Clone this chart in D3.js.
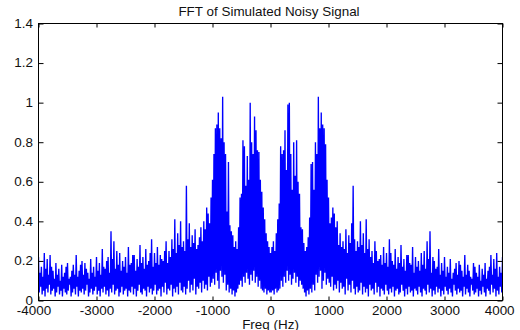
<!DOCTYPE html>
<html>
<head>
<meta charset="utf-8">
<script src="https://cdn.jsdelivr.net/npm/d3@7"></script>
<style>
  html, body { margin: 0; padding: 0; background: #fff; }
  svg { display: block; font-family: "Liberation Sans", Arial, sans-serif; }
</style>
</head>
<body>
<div id="chart"></div>
<script>
// FFT bins, 25 Hz apart, -4000 .. 4000
const freqs = d3.range(-4000, 4001, 25);

// magnitude read at each bin (spikes)
const peaks = [
  // -4000 .. 0
  0.22,0.14,0.17,0.12,0.24,0.16,0.21,0.13,0.23,0.17,
  0.15,0.11,0.19,0.13,0.16,0.10,0.18,0.12,0.14,0.17,
  0.19,0.11,0.12,0.15,0.18,0.13,0.23,0.12,0.15,0.18,
  0.20,0.13,0.19,0.16,0.14,0.11,0.21,0.14,0.17,0.12,
  0.22,0.15,0.19,0.13,0.26,0.17,0.16,0.20,0.22,0.14,
  0.35,0.21,0.30,0.16,0.25,0.18,0.24,0.15,0.20,0.17,
  0.22,0.14,0.27,0.18,0.19,0.23,0.23,0.15,0.21,0.17,
  0.28,0.19,0.22,0.16,0.26,0.18,0.20,0.24,0.31,0.17,
  0.24,0.19,0.27,0.18,0.23,0.21,0.20,0.25,0.30,0.19,
  0.25,0.22,0.31,0.26,0.41,0.24,0.34,0.28,0.40,0.27,
  0.30,0.25,0.58,0.31,0.39,0.27,0.33,0.29,0.36,0.26,
  0.28,0.32,0.37,0.30,0.40,0.36,0.47,0.44,0.39,0.52,
  0.61,0.74,0.87,0.89,0.95,0.87,0.82,1.03,0.80,0.74,
  0.45,0.70,0.38,0.35,0.33,0.27,0.30,0.26,0.37,0.52,
  0.54,0.81,0.78,0.58,0.73,0.61,1.00,0.80,0.74,0.93,
  0.86,0.76,0.75,0.61,0.55,0.47,0.41,0.34,0.30,0.27,
  0.24,
  // 25 .. 4000
  0.27,0.30,0.25,0.34,0.41,0.49,0.78,0.74,0.76,0.86,
  0.66,0.99,1.00,0.74,0.56,0.80,0.63,0.81,0.60,0.54,
  0.37,0.36,0.29,0.25,0.27,0.32,0.42,0.69,0.70,0.56,
  0.80,0.74,1.03,0.87,0.95,0.89,0.87,0.79,0.61,0.52,
  0.39,0.42,0.47,0.44,0.37,0.40,0.28,0.34,0.27,0.30,
  0.26,0.36,0.24,0.33,0.29,0.39,0.58,0.31,0.25,0.30,
  0.27,0.40,0.28,0.34,0.24,0.41,0.26,0.31,0.22,0.25,
  0.19,0.30,0.25,0.20,0.21,0.23,0.18,0.27,0.19,0.24,
  0.17,0.31,0.24,0.20,0.18,0.26,0.16,0.22,0.19,0.28,
  0.17,0.21,0.15,0.23,0.23,0.19,0.18,0.27,0.14,0.22,
  0.17,0.20,0.15,0.24,0.18,0.25,0.16,0.30,0.21,0.35,
  0.14,0.22,0.20,0.16,0.17,0.26,0.13,0.19,0.15,0.22,
  0.12,0.17,0.14,0.21,0.11,0.14,0.16,0.19,0.13,0.20,
  0.18,0.15,0.12,0.23,0.13,0.18,0.15,0.12,0.11,0.19,
  0.17,0.14,0.12,0.18,0.10,0.16,0.13,0.19,0.11,0.15,
  0.17,0.23,0.13,0.21,0.16,0.24,0.12,0.17,0.14,0.22
];

// magnitude read between neighbouring bins (dips)
const troughs = [
  // -4000 .. 0
  0.04,0.07,0.03,0.05,0.02,0.06,0.04,0.08,0.03,0.05,0.06,0.02,0.04,0.07,0.03,0.05,0.02,0.06,0.04,0.03,
  0.05,0.08,0.02,0.04,0.06,0.03,0.07,0.02,0.05,0.04,0.06,0.03,0.05,0.08,0.02,0.04,0.06,0.03,0.05,0.07,
  0.03,0.05,0.02,0.06,0.04,0.07,0.03,0.05,0.02,0.06,0.04,0.08,0.03,0.05,0.06,0.02,0.04,0.07,0.03,0.05,
  0.06,0.02,0.05,0.04,0.07,0.03,0.06,0.02,0.05,0.08,0.04,0.03,0.06,0.05,0.02,0.07,0.04,0.06,0.03,0.05,
  0.08,0.03,0.05,0.06,0.02,0.07,0.04,0.09,0.03,0.06,0.05,0.08,0.02,0.06,0.04,0.07,0.03,0.09,0.05,0.04,
  0.07,0.03,0.06,0.10,0.04,0.08,0.05,0.11,0.03,0.07,0.06,0.09,0.04,0.10,0.06,0.08,0.05,0.12,0.07,0.09,
  0.11,0.08,0.14,0.10,0.06,0.15,0.12,0.09,0.13,0.05,0.08,0.04,0.06,0.03,0.05,0.02,0.04,0.06,0.08,0.10,
  0.07,0.12,0.09,0.14,0.11,0.08,0.13,0.10,0.15,0.09,0.12,0.07,0.10,0.06,0.05,0.04,0.06,0.03,0.05,0.04,
  // 0 .. 4000
  0.04,0.05,0.03,0.06,0.04,0.05,0.06,0.10,0.07,0.12,0.09,0.15,0.10,0.13,0.08,0.11,0.14,0.09,0.12,0.07,
  0.10,0.08,0.06,0.04,0.02,0.05,0.03,0.06,0.04,0.08,0.05,0.13,0.09,0.12,0.15,0.06,0.10,0.14,0.08,0.11,
  0.09,0.07,0.12,0.05,0.08,0.06,0.10,0.04,0.09,0.06,0.07,0.03,0.11,0.05,0.08,0.04,0.10,0.06,0.03,0.07,
  0.04,0.05,0.09,0.03,0.07,0.04,0.06,0.02,0.08,0.05,0.06,0.03,0.09,0.04,0.07,0.02,0.06,0.05,0.03,0.08,
  0.05,0.03,0.06,0.04,0.07,0.02,0.05,0.06,0.03,0.04,0.08,0.05,0.02,0.06,0.03,0.07,0.04,0.05,0.02,0.06,
  0.05,0.03,0.07,0.04,0.02,0.06,0.05,0.03,0.08,0.04,0.06,0.02,0.05,0.03,0.07,0.04,0.06,0.02,0.05,0.03,
  0.07,0.05,0.03,0.06,0.04,0.02,0.08,0.05,0.03,0.06,0.04,0.05,0.02,0.07,0.03,0.06,0.04,0.02,0.08,0.05,
  0.03,0.04,0.06,0.02,0.05,0.03,0.07,0.04,0.02,0.06,0.05,0.03,0.08,0.04,0.06,0.02,0.05,0.03,0.07,0.04
];

const xTicks = [-4000, -3000, -2000, -1000, 0, 1000, 2000, 3000, 4000];
const yTicks = [0, 0.2, 0.4, 0.6, 0.8, 1, 1.2, 1.4];
const title = 'FFT of Simulated Noisy Signal';
const xLabel = 'Freq (Hz)';

const width = 520;
const height = 330;
const plotLeft = 38.5, plotRight = 502.5, plotTop = 23.5, plotBottom = 300.5;
const stretch = 'scale(1.12,1)';

// peaks on the bins, troughs half way between them
const points = [];
peaks.forEach((v, i) => {
  points.push({ f: freqs[i], v: v });
  if (i < troughs.length) points.push({ f: freqs[i] + 12.5, v: troughs[i] });
});

const svg = d3.select('#chart')
  .append('svg')
  .attr('width', width)
  .attr('height', height);

const x = d3.scaleLinear()
  .domain([-4000, 4000])
  .range([plotLeft, plotRight]);

const y = d3.scaleLinear()
  .domain([0, 1.4])
  .range([plotBottom, plotTop]);

svg.append('clipPath')
  .attr('id', 'plot-area')
  .append('rect')
  .attr('x', plotLeft)
  .attr('y', plotTop)
  .attr('width', plotRight - plotLeft)
  .attr('height', plotBottom - plotTop);

// many samples per pixel in the original, so a slightly heavier stroke
svg.append('path')
  .datum(points)
  .attr('clip-path', 'url(#plot-area)')
  .attr('fill', 'none')
  .attr('stroke', '#0000ff')
  .attr('stroke-width', 1.35)
  .attr('stroke-linejoin', 'miter')
  .attr('d', d3.line().x(d => x(d.f)).y(d => y(d.v)));

function styleAxis(g) {
  g.select('.domain').remove();
  g.attr('color', '#000')
    .attr('font-family', null)
    .attr('font-size', null);
  g.selectAll('text')
    .style('font-size', '12px')
    .attr('fill', '#111');
}

// bottom axis with labels
const xAxis = svg.append('g')
  .attr('transform', 'translate(0,' + plotBottom + ')')
  .call(d3.axisBottom(x).tickValues(xTicks).tickSizeInner(-4).tickSizeOuter(0)
    .tickPadding(5.5).tickFormat(d => String(d)))
  .call(styleAxis);

xAxis.selectAll('text').attr('transform', stretch);
// end labels sit a little inside the frame in the original
xAxis.selectAll('text').filter(d => d === -4000).attr('x', -4.5);
xAxis.selectAll('text').filter(d => d === 4000).attr('x', -3);

// left axis with labels
svg.append('g')
  .attr('transform', 'translate(' + plotLeft + ',0)')
  .call(d3.axisLeft(y).tickValues(yTicks).tickSizeInner(-5).tickSizeOuter(0)
    .tickPadding(5).tickFormat(d => String(d)))
  .call(styleAxis)
  .selectAll('text').attr('transform', stretch);

// top and right ticks, no labels
svg.append('g')
  .attr('transform', 'translate(0,' + plotTop + ')')
  .call(d3.axisTop(x).tickValues(xTicks).tickSizeInner(-4).tickSizeOuter(0).tickFormat(''))
  .call(styleAxis);

svg.append('g')
  .attr('transform', 'translate(' + plotRight + ',0)')
  .call(d3.axisRight(y).tickValues(yTicks).tickSizeInner(-5).tickSizeOuter(0).tickFormat(''))
  .call(styleAxis);

// box
svg.append('rect')
  .attr('x', plotLeft)
  .attr('y', plotTop)
  .attr('width', plotRight - plotLeft)
  .attr('height', plotBottom - plotTop)
  .attr('fill', 'none')
  .attr('stroke', '#000')
  .attr('stroke-width', 1);

svg.append('text')
  .attr('transform', 'translate(269,16) ' + stretch)
  .attr('text-anchor', 'middle')
  .style('font-size', '12px')
  .attr('fill', '#111')
  .text(title);

svg.append('text')
  .attr('transform', 'translate(270.5,328.5) ' + stretch)
  .attr('text-anchor', 'middle')
  .style('font-size', '12px')
  .attr('fill', '#111')
  .text(xLabel);
</script>
</body>
</html>
